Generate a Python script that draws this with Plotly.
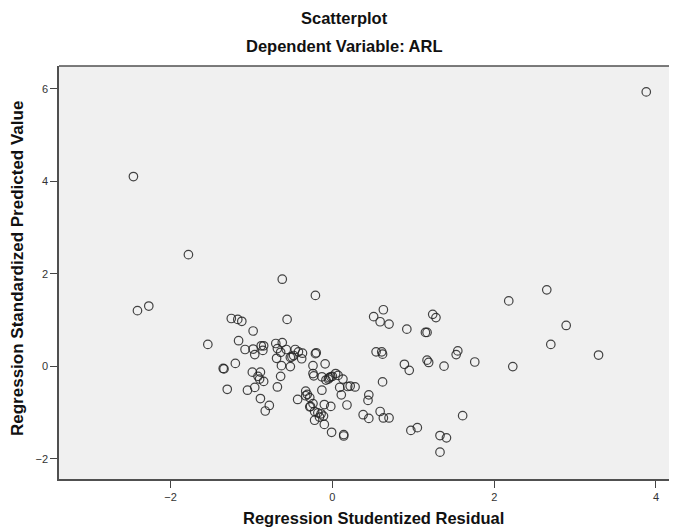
import plotly.graph_objects as go

residual = [3.88, -2.46, -1.78, -0.62, -2.41, -2.27, -1.54, -1.25, -1.17, -1.12,
            -0.98, -1.16, -1.08, -0.98, -0.96, -0.88, -0.85, -0.86, -1.35, -1.34,
            -1.20, -0.99, -0.89, -0.92, -0.90, -0.85, -1.30, -1.05, -0.96, -0.89,
            -0.83, -0.78, -0.21, -0.56, 0.51, 0.63, 0.59, 0.70, 0.92, 1.15,
            1.17, -0.70, -0.62, -0.68, -0.64, -0.57, -0.69, -0.63, -0.52, -0.50,
            -0.46, -0.48, -0.42, -0.37, -0.38, -0.52, -0.20, -0.21, -0.09, -0.24,
            -0.24, -0.23, -0.13, -0.04, -0.02, -0.05, 0.00, 0.04, 0.07, 0.13,
            -0.08, 0.09, 0.19, 0.22, 0.28, 0.11, -0.13, -0.33, -0.31, -0.28,
            -0.33, -0.43, -0.24, -0.28, -0.27, -0.10, -0.02, -0.22, -0.18, -0.14,
            -0.11, -0.16, -0.22, -0.10, -0.01, 0.14, 0.14, 0.18, 0.45, 0.44,
            0.38, 0.45, 0.59, 0.63, 0.70, 0.62, 0.54, 0.61, 0.62, 0.89,
            0.95, 1.17, 1.19, 0.97, 1.05, -0.68, -0.64, 2.65, 2.18, 2.89,
            2.70, 3.29, 2.23, 1.76, 1.55, 1.53, 1.38, 1.24, 1.28, 1.61,
            1.33, 1.41, 1.33]

predicted = [5.93, 4.10, 2.41, 1.88, 1.20, 1.30, 0.47, 1.03, 1.01, 0.97,
             0.76, 0.55, 0.36, 0.37, 0.25, 0.44, 0.44, 0.34, -0.05, -0.06,
             0.06, -0.13, -0.13, -0.22, -0.28, -0.33, -0.50, -0.52, -0.46, -0.70,
             -0.97, -0.85, 1.53, 1.01, 1.07, 1.22, 0.96, 0.91, 0.80, 0.73,
             0.73, 0.49, 0.51, 0.38, 0.30, 0.36, 0.17, 0.01, -0.01, 0.20,
             0.36, 0.23, 0.31, 0.28, 0.16, 0.19, 0.29, 0.27, 0.05, 0.01,
             -0.16, -0.21, -0.23, -0.25, -0.23, -0.28, -0.22, -0.16, -0.20, -0.28,
             -0.30, -0.46, -0.44, -0.43, -0.45, -0.62, -0.52, -0.54, -0.61, -0.68,
             -0.64, -0.72, -0.81, -0.88, -0.87, -0.83, -0.87, -0.98, -1.01, -1.03,
             -1.08, -1.10, -1.17, -1.26, -1.43, -1.48, -1.51, -0.84, -0.62, -0.74,
             -1.05, -1.13, -0.98, -1.12, -1.12, -0.34, 0.31, 0.31, 0.26, 0.04,
             -0.09, 0.13, 0.08, -1.39, -1.33, -0.45, -0.22, 1.65, 1.41, 0.88,
             0.47, 0.24, -0.01, 0.09, 0.33, 0.25, 0.00, 1.12, 1.05, -1.07,
             -1.50, -1.55, -1.86]

x_ticks = [-2, 0, 2, 4]
y_ticks = [-2, 0, 2, 4, 6]

title_text = "Scatterplot"
subtitle_text = "Dependent Variable: ARL"
x_title = "Regression Studentized Residual"
y_title = "Regression Standardized Predicted Value"

font_family = "Liberation Sans, Arial, sans-serif"

W, H = 677, 529
ML, MR, MT, MB = 51, 8, 58, 58
PW, PH = W - ML - MR, H - MT - MB


def px(fx):
    return (fx - ML) / PW


def py(fy):
    return (H - MB - fy) / PH


fig = go.Figure()
fig.add_trace(go.Scatter(
    x=residual, y=predicted, mode="markers",
    marker=dict(symbol="circle-open", size=8.5, color="rgba(35,35,35,0.85)",
                line=dict(width=1.2, color="rgba(35,35,35,0.85)")),
    hoverinfo="x+y", showlegend=False,
))

axis_common = dict(
    showgrid=False, zeroline=False, showline=True, linecolor="#505050", linewidth=1.6,
    ticks="outside", ticklen=7, tickwidth=1.3, tickcolor="#444444",
    tickfont=dict(family=font_family, size=11, color="#333333"),
    mirror=False,
)

fig.update_layout(
    width=W, height=H,
    margin=dict(l=ML, r=MR, t=MT, b=MB),
    paper_bgcolor="white", plot_bgcolor="#F0F0F0",
    font=dict(family=font_family),
    xaxis=dict(range=[-3.38, 4.26], tickvals=x_ticks, **axis_common),
    yaxis=dict(range=[-2.44, 6.49], tickvals=y_ticks, **axis_common),
    annotations=[
        dict(text="<b>%s</b>" % title_text, x=px(336), y=py(10), xref="paper", yref="paper",
             xanchor="center", yanchor="middle", showarrow=False,
             font=dict(size=16.5, color="#111111")),
        dict(text="<b>%s</b>" % subtitle_text, x=px(336), y=py(38), xref="paper",
             yref="paper", xanchor="center", yanchor="middle", showarrow=False,
             font=dict(size=16.5, color="#111111")),
        dict(text="<b>%s</b>" % x_title, x=px(365), y=py(510), xref="paper",
             yref="paper", xanchor="center", yanchor="middle", showarrow=False,
             font=dict(size=16.5, color="#111111")),
        dict(text="<b>%s</b>" % y_title, x=px(9), y=py(261), xref="paper",
             yref="paper", xanchor="center", yanchor="middle", showarrow=False,
             textangle=-90, font=dict(size=17, color="#111111")),
    ],
)

# top frame line
fig.add_shape(type="line", xref="paper", yref="paper", x0=0, x1=1, y0=1, y1=1,
              line=dict(color="#505050", width=1.6))

fig.write_html("out.html")
